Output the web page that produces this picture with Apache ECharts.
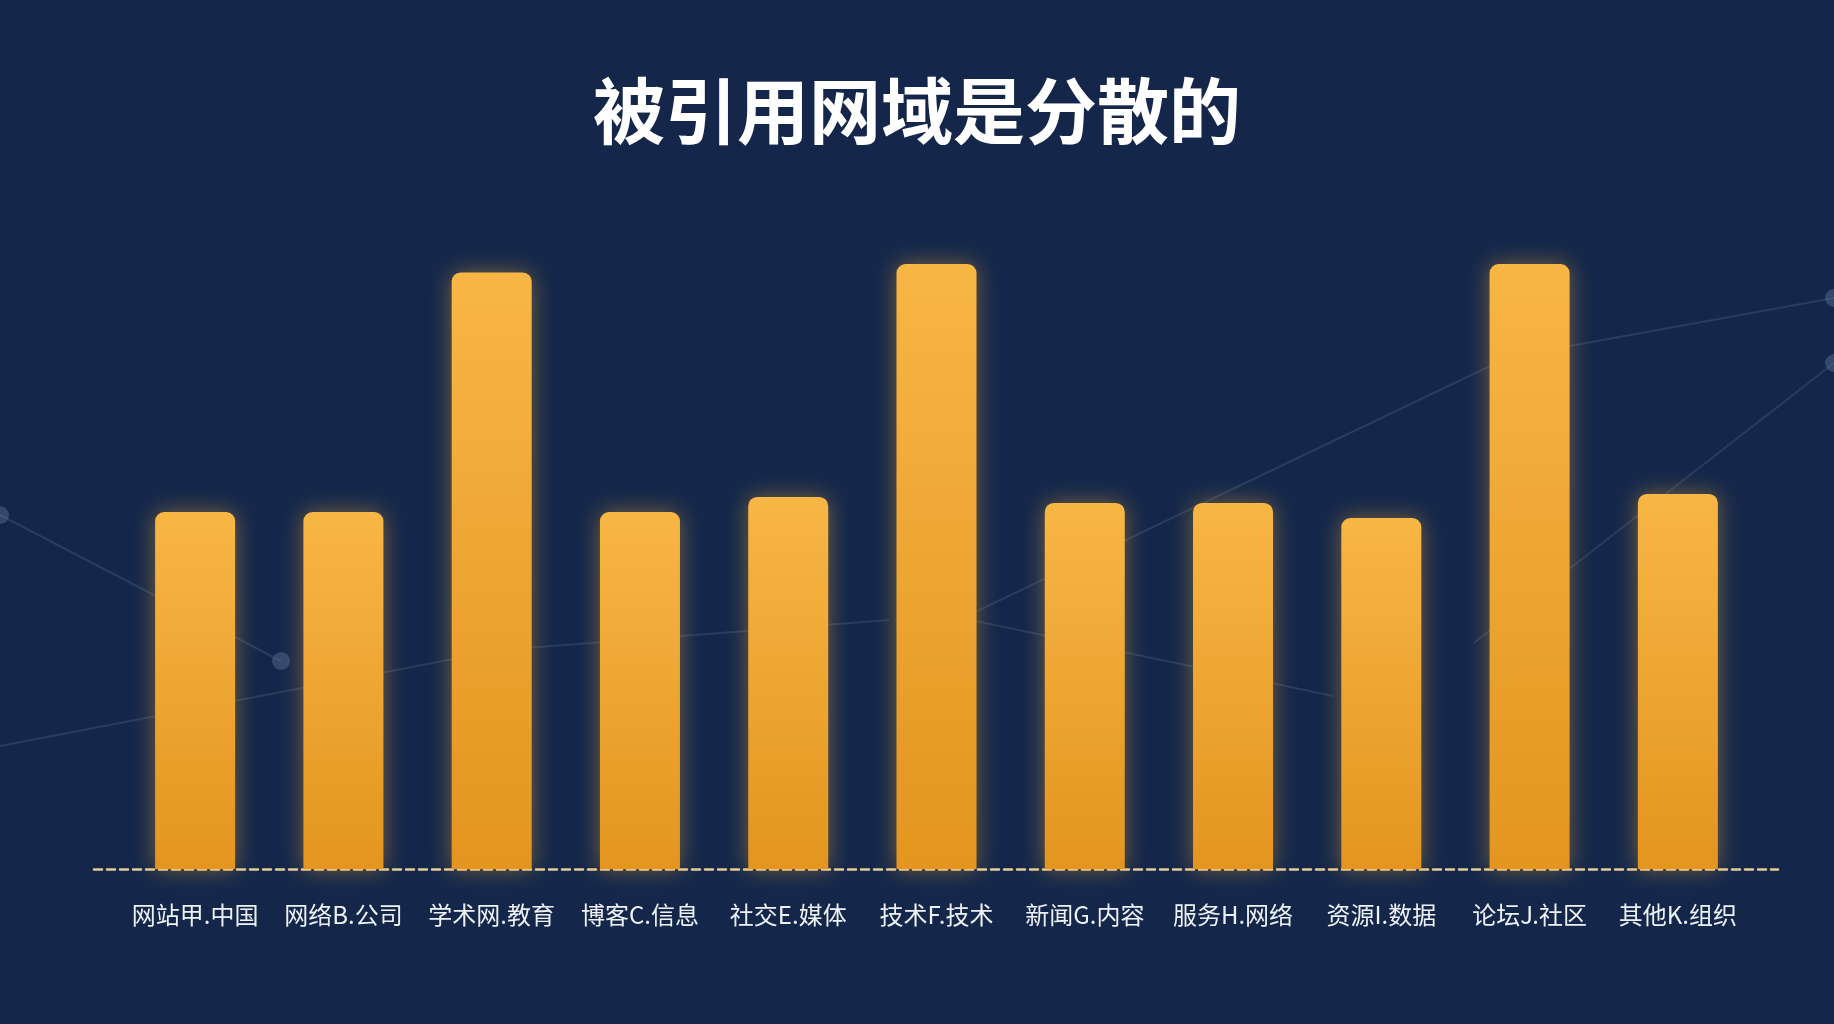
<!DOCTYPE html>
<html>
<head>
<meta charset="utf-8">
<script src="https://cdn.jsdelivr.net/npm/echarts@6/dist/echarts.min.js"></script>
<style>
html,body{margin:0;padding:0;background:#14274a;}
#c{width:1834px;height:1024px;}
</style>
</head>
<body>
<div id="c"></div>
<script>
const titleText = '被引用网域是分散的';
const categories = ['网站甲.中国','网络B.公司','学术网.教育','博客C.信息','社交E.媒体','技术F.技术','新闻G.内容','服务H.网络','资源I.数据','论坛J.社区','其他K.组织'];
const values = [59, 59, 98.6, 59, 61.5, 100, 60.5, 60.5, 58, 100, 62];

const chart = echarts.init(document.getElementById('c'));
const lineStyle = {stroke: 'rgba(110,135,170,0.22)', lineWidth: 2};
const dotStyle = {fill: 'rgba(110,135,170,0.35)'};
const deco = [
  {type:'polyline', shape:{points:[[0,515],[281,661]]}, style:lineStyle},
  {type:'polyline', shape:{points:[[0,746],[500,650],[889,620]]}, style:lineStyle},
  {type:'polyline', shape:{points:[[971,620],[1333,696]]}, style:lineStyle},
  {type:'polyline', shape:{points:[[971,614],[1509,357],[1834,298]]}, style:lineStyle},
  {type:'polyline', shape:{points:[[1474,643],[1834,363]]}, style:lineStyle},
  {type:'circle', shape:{cx:0,cy:515,r:9}, style:dotStyle},
  {type:'circle', shape:{cx:281,cy:661,r:9}, style:dotStyle},
  {type:'circle', shape:{cx:1834,cy:298,r:9}, style:dotStyle},
  {type:'circle', shape:{cx:1834,cy:363,r:9}, style:dotStyle}
].map(g => Object.assign(g, {z: -10, silent: true}));

chart.setOption({
  backgroundColor: '#14274a',
  title: {
    text: titleText,
    left: 'center',
    top: 70,
    textStyle: {color: '#ffffff', fontSize: 72, fontWeight: 'bold', fontFamily: 'Noto Sans CJK SC'}
  },
  graphic: deco,
  grid: [
    {left: 121, width: 1631, top: 264, bottom: 155},
    {left: 94, right: 56, top: 264, bottom: 155}
  ],
  xAxis: [
    {
      type: 'category', gridIndex: 0, data: categories,
      axisLine: {show: false}, axisTick: {show: false},
      axisLabel: {color: '#eef1f5', fontSize: 24, margin: 34, fontFamily: 'Noto Sans CJK SC', interval: 0}
    },
    {
      type: 'category', gridIndex: 1, data: [''],
      axisLine: {show: true, lineStyle: {color: '#e6cc98', width: 2.5, type: [8, 5]}},
      axisTick: {show: false}, axisLabel: {show: false}
    }
  ],
  yAxis: [
    {type: 'value', gridIndex: 0, min: 0, max: 100, show: false},
    {type: 'value', gridIndex: 1, min: 0, max: 100, show: false}
  ],
  series: [{
    type: 'bar',
    xAxisIndex: 0, yAxisIndex: 0,
    data: values,
    barWidth: 80,
    z: 3,
    itemStyle: {
      borderRadius: [9, 9, 0, 0],
      color: new echarts.graphic.LinearGradient(0, 0, 0, 1, [
        {offset: 0, color: '#f8b645'},
        {offset: 1, color: '#e3951f'}
      ]),
      shadowBlur: 22,
      shadowColor: 'rgba(245,170,45,0.45)'
    }
  }]
});
</script>
</body>
</html>
